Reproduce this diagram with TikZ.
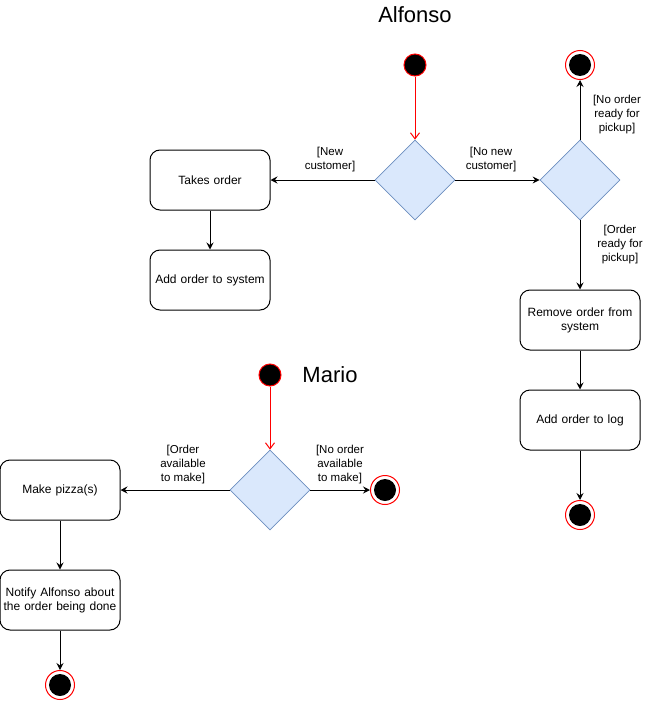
\documentclass[tikz,border=0pt]{standalone}
\usepackage{fontspec}
\setmainfont{Liberation Sans}
\usetikzlibrary{shapes.geometric,arrows.meta}
\definecolor{dfill}{HTML}{DAE8FC}
\definecolor{dline}{HTML}{6C8EBF}
\definecolor{sred}{HTML}{FF0000}
\tikzset{
  x=1pt, y=-1pt,
  every node/.style={font=\fontsize{12}{14}\selectfont},
  actbox/.style={draw, line width=1pt, rounded corners=10pt, minimum width=120pt, minimum height=60pt, align=center, inner sep=2pt, text width=116pt},
  decis/.style={diamond, draw=dline, fill=dfill, line width=0.8pt, minimum width=80pt, minimum height=80pt, inner sep=0pt, aspect=1},
  startst/.style={circle, draw=sred, fill=black, line width=1pt, minimum size=22pt, inner sep=0pt},
  endst/.style={circle, draw=sred, fill=white, line width=1pt, minimum size=29pt, inner sep=0pt},
  flow/.style={draw, line width=1pt, -{Stealth[length=7pt,width=7pt,inset=2.5pt]}},
  redflow/.style={draw=sred, line width=1pt, -{Straight Barb[length=6pt,width=9pt,line width=1pt]}},
  lbl/.style={align=center, inner sep=0pt, font=\fontsize{11.5}{14}\selectfont},
  ttl/.style={font=\fontsize{22}{26}\selectfont, inner sep=0pt}
}
\begin{document}
\begin{tikzpicture}
\useasboundingbox (0,0) rectangle (651,701);
% Alfonso
\node[ttl] (t1) at (415,15) {Alfonso};
\node[startst] (s1) at (415,65) {};
\node[decis] (d1) at (415,180) {};
\node[actbox] (b1) at (210,180) {Takes order};
\node[actbox] (b2) at (210,280) {Add order to system};
\node[decis] (d2) at (580,180) {};
\node[endst] (e1) at (580,65) {};
\fill (e1.center) circle (11pt);
\node[actbox] (b3) at (580,320) {Remove order from\\system};
\node[actbox] (b4) at (580,420) {Add order to log};
\node[endst] (e2) at (580,515) {};
\fill (e2.center) circle (11pt);
\draw[redflow] (s1) -- (d1.north);
\draw[flow] (d1.west) -- (b1.east);
\draw[flow] (b1) -- (b2);
\draw[flow] (d1.east) -- (d2.west);
\draw[flow] (d2.north) -- (e1);
\draw[flow] (d2.south) -- (b3);
\draw[flow] (b3) -- (b4);
\draw[flow] (b4) -- (e2);
\node[lbl] (l1) at (330,160) {[New\\customer]};
\node[lbl] (l2) at (491,160) {[No new\\customer]};
\node[lbl] (l3) at (617,115) {[No order\\ready for\\pickup]};
\node[lbl] (l4) at (620,245) {[Order\\ready for\\pickup]};
% Mario
\node[startst] (s2) at (270,375) {};
\node[ttl] (t2) at (330,375) {Mario};
\node[decis] (d3) at (270,490) {};
\node[actbox] (b5) at (60,490) {Make pizza(s)};
\node[actbox] (b6) at (60,600) {Notify Alfonso about\\the order being done};
\node[endst] (e3) at (385,490) {};
\fill (e3.center) circle (11pt);
\node[endst] (e4) at (60,685) {};
\fill (e4.center) circle (11pt);
\draw[redflow] (s2) -- (d3.north);
\draw[flow] (d3.west) -- (b5.east);
\draw[flow] (d3.east) -- (e3);
\draw[flow] (b5) -- (b6);
\draw[flow] (b6) -- (e4);
\node[lbl] (l5) at (183,465) {[Order\\available\\to make]};
\node[lbl] (l6) at (340,465) {[No order\\available\\to make]};
\end{tikzpicture}
\end{document}
